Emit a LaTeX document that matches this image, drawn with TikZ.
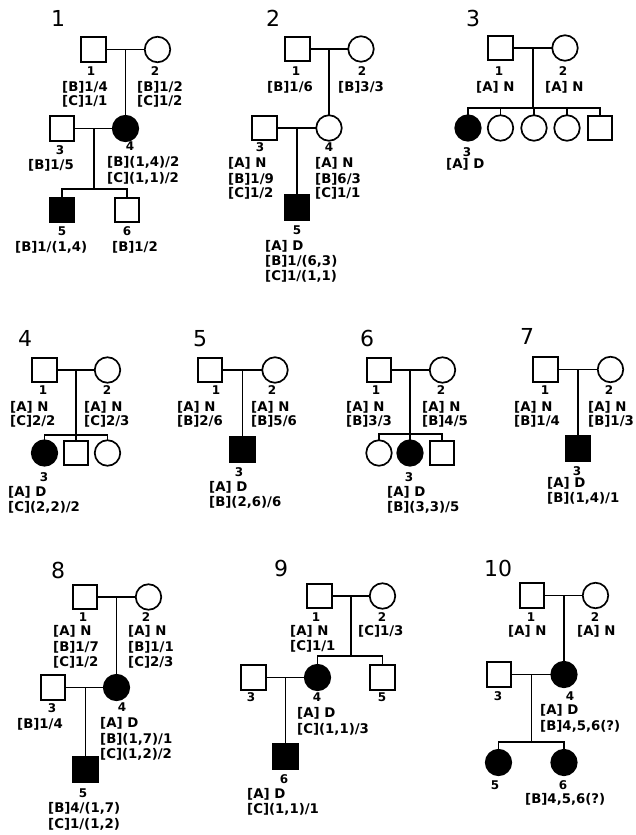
\documentclass[tikz,border=0pt]{standalone}
\usepackage{fontspec}
\setmainfont{DejaVu Sans}
\usetikzlibrary{calc}
\tikzset{
  ind/.style={draw, line width=1.7pt, inner sep=0pt, outer sep=0pt},
  male/.style={ind, rectangle, minimum size=24.5pt},
  female/.style={ind, circle, minimum size=25.5pt},
  aff/.style={fill=black},
  ln/.style={line width=1.6pt},
  gt/.style={font=\fontsize{13.3}{15}\selectfont\bfseries, inner sep=0pt, text height=10pt, text depth=2.8pt, anchor=west},
  idl/.style={font=\fontsize{12}{14}\selectfont\bfseries, inner sep=0pt, text height=8.8pt, text depth=0pt, anchor=center},
  ttl/.style={font=\fontsize{22}{26}\selectfont, inner sep=0pt, text height=16pt, text depth=0pt, anchor=center},
}
\newcommand\gtyp[4]{\node[gt] (#1) at (#2,#3) {#4};}
\newcommand\idn[4]{\node[idl] (#1) at (#2,#3) {#4};}
\newcommand\ttlnum[4]{\node[ttl] (#1) at (#2,#3) {#4};}
\begin{document}
\begin{tikzpicture}[x=1pt,y=-1pt]
\useasboundingbox[fill=white] (0,0) rectangle (635,835);

% ---------------- Pedigree 1
\ttlnum{T1}{58}{18}{1}
\node[male] (a1) at (93.5,49.5) {};
\node[female] (a2) at (157.5,49.5) {};
\node[male] (a3) at (62,128.5) {};
\node[female,aff] (a4) at (125.5,128.5) {};
\node[male,aff] (a5) at (62,210) {};
\node[male] (a6) at (127,210) {};
\draw[ln] (a1) -- (a2);
\draw[ln] (a4.north) -- (a4.north |- a1.center);
\draw[ln] (a3) -- (a4);
\coordinate (a34) at ($(a3)!.5!(a4)$);
\coordinate (as) at (a34 |- 0,189);
\draw[ln] (a34) -- (as);
\draw[ln] (a5.north) -- (a5.north |- as) -- (a6.north |- as) -- (a6.north);
\idn{a1n}{91}{71}{1} \idn{a2n}{155}{71}{2} \idn{a3n}{60}{150}{3}
\idn{a4n}{130}{146}{4} \idn{a5n}{62}{231}{5} \idn{a6n}{127}{231}{6}
\gtyp{a1b}{62}{88}{[B]1/4} \gtyp{a1c}{62}{102}{[C]1/1}
\gtyp{a2b}{137}{88}{[B]1/2} \gtyp{a2c}{137}{102}{[C]1/2}
\gtyp{a3b}{28}{166}{[B]1/5}
\gtyp{a4b}{107}{163}{[B](1,4)/2} \gtyp{a4c}{107}{179}{[C](1,1)/2}
\gtyp{a5b}{15}{248}{[B]1/(1,4)}
\gtyp{a6b}{112}{248}{[B]1/2}

% ---------------- Pedigree 2
\ttlnum{T2}{273}{18}{2}
\node[male] (b1) at (297.5,49) {};
\node[female] (b2) at (361,49) {};
\node[male] (b3) at (264.5,128) {};
\node[female] (b4) at (329,128) {};
\node[male,aff] (b5) at (297,207.5) {};
\draw[ln] (b1) -- (b2);
\draw[ln] (b4.north) -- (b4.north |- b1.center);
\draw[ln] (b3) -- (b4);
\draw[ln] (b5.north) -- (b5.north |- b3.center);
\idn{b1n}{296}{71}{1} \idn{b2n}{362}{71}{2} \idn{b3n}{260}{147}{3}
\idn{b4n}{329}{147}{4} \idn{b5n}{297}{230}{5}
\gtyp{b1b}{267}{88}{[B]1/6}
\gtyp{b2b}{338}{88}{[B]3/3}
\gtyp{b3a}{228}{164}{[A] N} \gtyp{b3b}{228}{180}{[B]1/9} \gtyp{b3c}{228}{194}{[C]1/2}
\gtyp{b4a}{315}{164}{[A] N} \gtyp{b4b}{315}{180}{[B]6/3} \gtyp{b4c}{315}{194}{[C]1/1}
\gtyp{b5a}{265}{247}{[A] D} \gtyp{b5b}{265}{262}{[B]1/(6,3)} \gtyp{b5c}{265}{277}{[C]1/(1,1)}

% ---------------- Pedigree 3
\ttlnum{T3}{473}{18}{3}
\node[male] (c1) at (500.5,48) {};
\node[female] (c2) at (565,48) {};
\node[female,aff] (c3) at (468,128) {};
\node[female] (c4) at (500.5,128) {};
\node[female] (c5) at (534,128) {};
\node[female] (c6) at (567,128) {};
\node[male] (c7) at (600,128) {};
\draw[ln] (c1) -- (c2);
\coordinate (c12) at ($(c1)!.5!(c2)$);
\coordinate (cs) at (c12 |- 0,108);
\draw[ln] (c12) -- (cs);
\draw[ln] (c3.north) -- (c3.north |- cs) -- (c7.north |- cs) -- (c7.north);
\draw[ln] (c4.north) -- (c4.north |- cs);
\draw[ln] (c5.north) -- (c5.north |- cs);
\draw[ln] (c6.north) -- (c6.north |- cs);
\idn{c1n}{499}{71}{1} \idn{c2n}{563}{71}{2} \idn{c3n}{467}{152}{3}
\gtyp{c1a}{476}{88}{[A] N}
\gtyp{c2a}{545}{88}{[A] N}
\gtyp{c3a}{446}{165}{[A] D}

% ---------------- Pedigree 4
\ttlnum{T4}{25}{338}{4}
\node[male] (d1) at (44.5,370) {};
\node[female] (d2) at (107.5,370) {};
\node[female,aff] (d3) at (44.5,453) {};
\node[male] (d4) at (76,453) {};
\node[female] (d5) at (107.5,453) {};
\draw[ln] (d1) -- (d2);
\coordinate (ds) at (d4.north |- 0,435);
\draw[ln] (d4.north) -- (d4.north |- d1.center);
\draw[ln] (d3.north) -- (d3.north |- ds) -- (d5.north |- ds) -- (d5.north);
\idn{d1n}{43}{390}{1} \idn{d2n}{107}{390}{2} \idn{d3n}{44}{477}{3}
\gtyp{d1a}{10}{408}{[A] N} \gtyp{d1c}{10}{422}{[C]2/2}
\gtyp{d2a}{84}{408}{[A] N} \gtyp{d2c}{84}{422}{[C]2/3}
\gtyp{d3a}{8}{493}{[A] D} \gtyp{d3c}{8}{508}{[C](2,2)/2}

% ---------------- Pedigree 5
\ttlnum{T5}{200}{338}{5}
\node[male] (e1) at (210,370) {};
\node[female] (e2) at (275,370) {};
\node[male,aff] (e3) at (242.5,449.5) {};
\draw[ln] (e1) -- (e2);
\draw[ln] (e3.north) -- (e3.north |- e1.center);
\idn{e1n}{216}{390}{1} \idn{e2n}{272}{390}{2} \idn{e3n}{239}{472}{3}
\gtyp{e1a}{177}{408}{[A] N} \gtyp{e1b}{177}{422}{[B]2/6}
\gtyp{e2a}{251}{408}{[A] N} \gtyp{e2b}{251}{422}{[B]5/6}
\gtyp{e3a}{209}{488}{[A] D} \gtyp{e3b}{209}{503}{[B](2,6)/6}

% ---------------- Pedigree 6
\ttlnum{T6}{367}{338}{6}
\node[male] (f1) at (379,370) {};
\node[female] (f2) at (442.5,370) {};
\node[female] (f4) at (379,453) {};
\node[female,aff] (f3) at (410,453) {};
\node[male] (f5) at (442,453) {};
\draw[ln] (f1) -- (f2);
\coordinate (fs) at (f3.north |- 0,434);
\draw[ln] (f3.north) -- (f3.north |- f1.center);
\draw[ln] (f4.north) -- (f4.north |- fs) -- (f5.north |- fs) -- (f5.north);
\idn{f1n}{376}{390}{1} \idn{f2n}{441}{390}{2} \idn{f3n}{409}{477}{3}
\gtyp{f1a}{346}{408}{[A] N} \gtyp{f1b}{346}{422}{[B]3/3}
\gtyp{f2a}{422}{408}{[A] N} \gtyp{f2b}{422}{422}{[B]4/5}
\gtyp{f3a}{387}{493}{[A] D} \gtyp{f3b}{387}{508}{[B](3,3)/5}

% ---------------- Pedigree 7
\ttlnum{T7}{527}{336}{7}
\node[male] (g1) at (545.5,369.5) {};
\node[female] (g2) at (610.5,369.5) {};
\node[male,aff] (g3) at (578,448.5) {};
\draw[ln] (g1) -- (g2);
\draw[ln] (g3.north) -- (g3.north |- g1.center);
\idn{g1n}{545}{390}{1} \idn{g2n}{609}{390}{2} \idn{g3n}{577}{471}{3}
\gtyp{g1a}{514}{408}{[A] N} \gtyp{g1b}{514}{422}{[B]1/4}
\gtyp{g2a}{588}{408}{[A] N} \gtyp{g2b}{588}{422}{[B]1/3}
\gtyp{g3a}{547}{484}{[A] D} \gtyp{g3b}{547}{499}{[B](1,4)/1}

% ---------------- Pedigree 8
\ttlnum{T8}{58}{570}{8}
\node[male] (h1) at (85,597) {};
\node[female] (h2) at (148.5,597) {};
\node[male] (h3) at (53,687.5) {};
\node[female,aff] (h4) at (116.5,687.5) {};
\node[male,aff] (h5) at (85.5,769.5) {};
\draw[ln] (h1) -- (h2);
\draw[ln] (h4.north) -- (h4.north |- h1.center);
\draw[ln] (h3) -- (h4);
\draw[ln] (h5.north) -- (h5.north |- h3.center);
\idn{h1n}{83}{617}{1} \idn{h2n}{146}{617}{2} \idn{h3n}{52}{708}{3}
\idn{h4n}{122}{707}{4} \idn{h5n}{83}{793}{5}
\gtyp{h1a}{53}{632}{[A] N} \gtyp{h1b}{53}{648}{[B]1/7} \gtyp{h1c}{53}{663}{[C]1/2}
\gtyp{h2a}{128}{632}{[A] N} \gtyp{h2b}{128}{648}{[B]1/1} \gtyp{h2c}{128}{663}{[C]2/3}
\gtyp{h3b}{17}{725}{[B]1/4}
\gtyp{h4a}{100}{724}{[A] D} \gtyp{h4b}{100}{740}{[B](1,7)/1} \gtyp{h4c}{100}{755}{[C](1,2)/2}
\gtyp{h5b}{48}{809}{[B]4/(1,7)} \gtyp{h5c}{48}{825}{[C]1/(1,2)}

% ---------------- Pedigree 9
\ttlnum{T9}{281}{568}{9}
\node[male] (i1) at (319.5,596) {};
\node[female] (i2) at (382.5,596) {};
\node[male] (i3) at (253.5,677.5) {};
\node[female,aff] (i4) at (317.5,677.5) {};
\node[male] (i5) at (382.5,677.5) {};
\node[male,aff] (i6) at (285.5,756.5) {};
\draw[ln] (i1) -- (i2);
\coordinate (i12) at ($(i1)!.5!(i2)$);
\coordinate (is) at (i12 |- 0,656);
\draw[ln] (i12) -- (is);
\draw[ln] (i4.north) -- (i4.north |- is) -- (i5.north |- is) -- (i5.north);
\draw[ln] (i3) -- (i4);
\draw[ln] (i6.north) -- (i6.north |- i3.center);
\idn{i1n}{316}{617}{1} \idn{i2n}{382}{617}{2} \idn{i3n}{251}{697}{3}
\idn{i4n}{317}{697}{4} \idn{i5n}{382}{697}{5} \idn{i6n}{284}{779}{6}
\gtyp{i1a}{290}{632}{[A] N} \gtyp{i1c}{290}{647}{[C]1/1}
\gtyp{i2c}{358}{632}{[C]1/3}
\gtyp{i4a}{297}{714}{[A] D} \gtyp{i4c}{297}{730}{[C](1,1)/3}
\gtyp{i6a}{247}{795}{[A] D} \gtyp{i6c}{247}{810}{[C](1,1)/1}

% ---------------- Pedigree 10
\ttlnum{T10}{498}{568}{10}
\node[male] (j1) at (532,595.5) {};
\node[female] (j2) at (595.5,595.5) {};
\node[male] (j3) at (499,674.5) {};
\node[female,aff] (j4) at (564,674.5) {};
\node[female,aff] (j5) at (498.5,762.5) {};
\node[female,aff] (j6) at (564,762.5) {};
\draw[ln] (j1) -- (j2);
\draw[ln] (j4.north) -- (j4.north |- j1.center);
\draw[ln] (j3) -- (j4);
\coordinate (j34) at ($(j3)!.5!(j4)$);
\coordinate (js) at (j34 |- 0,742);
\draw[ln] (j34) -- (js);
\draw[ln] (j5.north) -- (j5.north |- js) -- (j6.north |- js) -- (j6.north);
\idn{j1n}{531}{617}{1} \idn{j2n}{595}{617}{2} \idn{j3n}{498}{696}{3}
\idn{j4n}{570}{696}{4} \idn{j5n}{495}{785}{5} \idn{j6n}{563}{785}{6}
\gtyp{j1a}{508}{632}{[A] N}
\gtyp{j2a}{577}{632}{[A] N}
\gtyp{j4a}{540}{711}{[A] D} \gtyp{j4b}{540}{727}{[B]4,5,6(?)}
\gtyp{j6b}{525}{800}{[B]4,5,6(?)}
\end{tikzpicture}
\end{document}
